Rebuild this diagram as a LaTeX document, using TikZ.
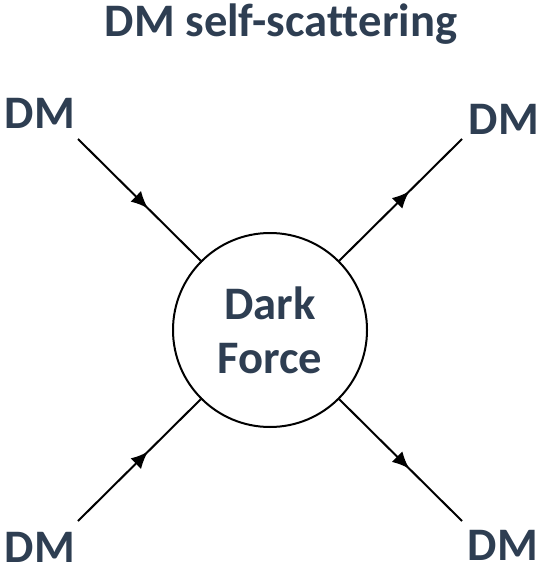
\documentclass[tikz,border=0pt]{standalone}
\usepackage{fontspec}
\setmainfont{Carlito}[Ligatures=CommonOff]
\usetikzlibrary{arrows.meta,decorations.markings}
\definecolor{labelblue}{RGB}{46,62,82}
\tikzset{
  lbl/.style={font=\fontsize{46.6}{55}\selectfont\bfseries, text=labelblue, anchor=base, inner sep=0pt},
  fermion/.style={line width=2pt, postaction={decorate}, decoration={markings,
      mark=at position 0.57 with {\arrow{Latex[length=17pt,width=15pt]}}}},
  blob/.style={circle, draw, line width=2pt, minimum size=194pt, inner sep=0pt,
      align=center, font=\fontsize{46.6}{55}\selectfont\bfseries, text=labelblue}
}
\begin{document}
\begin{tikzpicture}[x=1pt,y=-1pt]
  \useasboundingbox (0,0) rectangle (540,569);
  % title
  \node[lbl] (title) at (281,37) {DM self-scattering};
  % interaction blob
  \node[blob] (df) at (270,330) {Dark\\[-1pt]Force};
  % external legs
  \coordinate (tl) at (78,139);
  \coordinate (tr) at (462,139);
  \coordinate (bl) at (78,521);
  \coordinate (br) at (462,521);
  \draw[fermion] (tl) -- (df.135);
  \draw[fermion] (bl) -- (df.225);
  \draw[fermion] (df.45) -- (tr);
  \draw[fermion] (df.-45) -- (br);
  % particle labels
  \node[lbl] (ltl) at (40,129) {DM};
  \node[lbl] (ltr) at (504,135) {DM};
  \node[lbl] (lbl) at (40,562) {DM};
  \node[lbl] (lbr) at (503,560) {DM};
\end{tikzpicture}
\end{document}
